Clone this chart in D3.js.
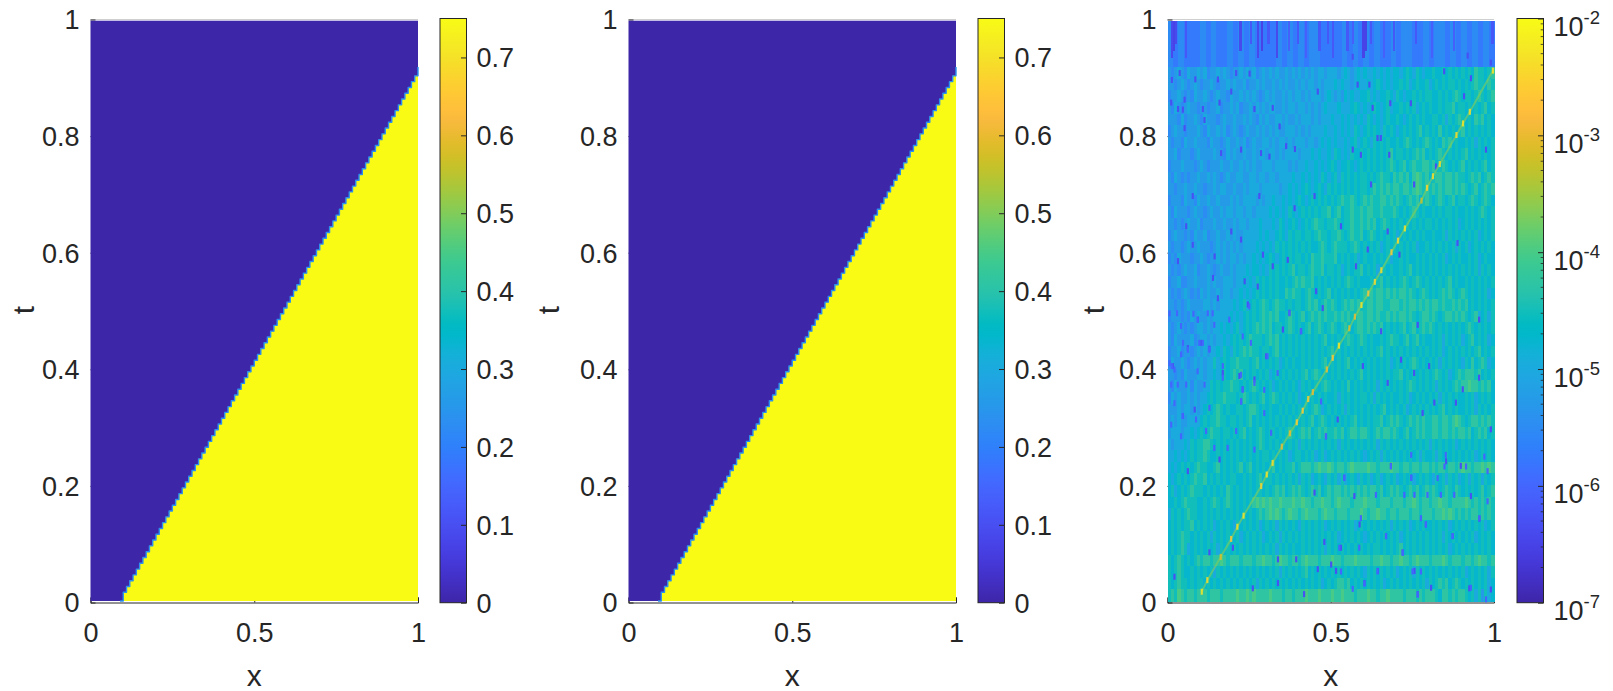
<!DOCTYPE html>
<html><head><meta charset="utf-8">
<script src="https://cdn.jsdelivr.net/npm/d3@7/dist/d3.min.js"></script>
<style>html,body{margin:0;padding:0;background:#fff}svg{display:block}
text{font-family:"Liberation Sans",Arial,sans-serif;fill:#262626}</style></head><body>
<svg id="c" width="1613" height="691"></svg>
<script>
const xTicks=[0,0.5,1], tTicks=[0,0.2,0.4,0.6,0.8,1];
const barTicksLinear=[0,0.1,0.2,0.3,0.4,0.5,0.6,0.7];
const barExponents=[-7,-6,-5,-4,-3,-2];
const lowValue=0, highValue=0.75;

const frontT=[0,.015,.025,.035,.045,.055,.065,.075,.085,.095,.105,.115,.125,.135,.145,.155,.165,.175,.185,.195,.205,.215,.225,.235,.245,.255,.265,.275,.285,.295,.305,.315,.325,.335,.345,.355,.365,.375,.385,.395,.405,.415,.425,.435,.445,.455,.465,.475,.485,.495,.505,.515,.525,.535,.545,.555,.565,.575,.585,.595,.605,.615,.625,.635,.645,.655,.665,.675,.685,.695,.705,.715,.725,.735,.745,.755,.765,.775,.785,.795,.805,.815,.825,.835,.845,.855,.865,.875,.885,.895,.905,.915,.92];
const frontX1=[.09,.10,.11,.12,.13,.14,.15,.16,.17,.18,.19,.20,.21,.22,.23,.24,.25,.26,.27,.28,.29,.30,.31,.32,.33,.34,.35,.36,.37,.38,.39,.40,.41,.42,.43,.44,.45,.46,.47,.48,.49,.50,.51,.52,.53,.54,.55,.56,.57,.58,.59,.60,.61,.62,.63,.64,.65,.66,.67,.68,.69,.70,.71,.72,.73,.74,.75,.76,.77,.78,.79,.80,.81,.82,.83,.84,.85,.86,.87,.88,.89,.90,.91,.92,.93,.94,.95,.96,.97,.98,.99,1,1];
const frontX2=[.09,.10,.11,.12,.13,.14,.15,.16,.17,.18,.19,.20,.21,.22,.23,.24,.25,.26,.27,.28,.29,.30,.31,.32,.33,.34,.35,.36,.37,.38,.39,.40,.41,.42,.43,.44,.45,.46,.47,.48,.49,.50,.51,.52,.53,.54,.55,.56,.57,.58,.59,.60,.61,.62,.63,.64,.65,.66,.67,.68,.69,.70,.71,.72,.73,.74,.75,.76,.77,.78,.79,.80,.81,.82,.83,.84,.85,.86,.87,.88,.89,.90,.91,.92,.93,.94,.95,.96,.97,.98,.99,1,1];

// panel 3: log10 error estimated by eye, hex level h means -7 + h/4, rows from t=0.92 down to t=0
const errorRows=[
"7678768778 7867787876 7787878678 7878778787 8787878878 8878987898 9889898989 989a98a989 9a99a9a9a9 a9a9baa9ab",
"7767876787 6778767787 8778677878 7787878778 7878878788 8989887898 8989a98989 9a9a89a99a 89a9a9aa9a 9a9abaa9ba",
"6778767687 7876787768 7787878767 8787787878 8787888789 8787989889 9a89899a98 a9899a9a9a a99a9a9aba 9aa9aba9ab",
"7687678776 7767786778 7867787878 7887787887 8878787898 8898889a98 989a989a89 9a9a9a89a9 a99a9aab9a a9a9a9ab9a",
"7776867787 6877767877 8778787687 8778878778 7888787888 9889898989 8a98989a99 a989a9a9a9 9aa9a8a9ab a9a9bab9a9",
"6787767778 7687787867 8767877878 7878778887 8787888898 8989898a98 9a9a98a9a9 89a9a9ab9a 9a9b9a9a9a b9a9a9a9a9",
"7677687787 7768776787 7878678778 8787887878 8878878989 8988989a89 a98a9a9a99 a9aba9a9ab a9a9bab9a9 9a9a8a9a9a",
"7786777678 7777877687 8778778788 7887878888 7888989889 8a9898a99a 9a9a9a9ab9 aa9a9abab9 a9aba9a9a9 ab9a9a9a9a",
"6777877767 8767778778 7787878778 8878888787 8898898989 a9899a989a 9a9a9a9aba 9ab9abaabb ab9aba9a9a b9a9a9ab9a",
"7687676778 7787876787 7887788788 7887888898 8989898a98 9a8a9a9a9a a9a9abaa9b abab9bcbab 9abbabbaba a9abab9aba",
"7767787787 7677878877 8778788878 8888788989 89a989a98a 9a9a9a9a9a a9abababab babbabcbab abababbaba ba9ab9abab",
"6777687768 7787787778 7878888787 8898898989 a989a9a9a9 a9abaaba9a babaabbaba ba9abab9ab a9aba9ab9a a9aba9aba9",
"7687776787 7678778788 7887887888 8989898a98 9a9a9a9aab 9ab9aabaab abbaabaaab a9a9aba9a9 9a9a9aa9a9 9a9a9aba9a",
"7767678778 6777877877 8788788898 8898a989a9 89a9abaa9a aba9aabaab abab9aba9a 9a9a9a9a9a a9a9a9a9a8 9a9a9a9a9a",
"6787767687 7867787787 8778888898 9889a98a9a a9aa9abaa9 aaba9abaab 9aba9a9a9a 89a9a9a9a9 9a99a8a9a9 a9a9a89a9a",
"7677678778 7776787878 7878888989 898a9a9a9a 9a9a99aba9 abaaa9aba9 a9a9a89a9a 9a9a9a899a 9a9a9a9a8a 9a89a9a9a9",
"6768777677 8767787878 8787889898 9a989a9a9a a9a9baabaa ab9a9a9a89 a99a9a9a89 9a9a99a9a9 a9a9a89a9a 99a9a89a99",
"7676787786 7787678778 7888989989 8a9a9a9ab9 aa9abaab9a a9a89a9aab 9a9a89a9a9 9a9ab9a9a9 a9a9a9a9a9 a9a9a8a9a9",
"6778667787 7787877888 7889898a9a 9a9a99a9ab abaab9a9a9 a9a9aba9a9 99a9ab9a9a 9aba9aba9a 9a9a9ab9a9 9a9a9a9a9a",
"7676787676 8787787887 8898989a9a 9a9a99baba a9aba9a9ab 9a9a9a9a9a bababbabab abbaba9aba 9a9ababa9a ba9a9a9a89",
"7767678777 7887878888 989a89a9ab a9abaa9a9a a9abab9aba ba9abababa abbabbaabb bababbabab abbabaabab ab9a9a9a9a",
"6777676878 7787888889 8989a9a9ab abab99aba9 ab9abababa abababaabb abbabaabab abbaba9abb aba9abbaba ba9ab89a8a",
"7678767678 8787889898 9a89a9abab ab9aa9aba9 a9ab9aba9a ba9aba9abb ababab9a9a 9ab9ab9aba ba9a9a9a9a 9aba9a9a9a",
"7687777867 8878788989 a9a9abaaa9 abab9a9a9a 9a9a9a9ab9 a9a9aba9ab a9a99a9aba a9ab9ab9a9 9a9a8a9a9a 89ab9a9a89",
"6778677678 7878898a98 a9ababaa9a a9ab9a9a9a 9a9a9a9a9a b9a9a9a9a9 a9a9ab9a9a 9a9a9a9a9a 9a9a89a9a9 a9a9ab9a9a",
"6877876787 8788a89a9a abaaa9ab9a 9a9a89a9a9 9a9a9a9ab9 a9a9ab9a9a 9a9a9a9a89 a9a9aba9a9 a9a8a9a9a9 8a9b9aba89",
"7767687778 8788989a9a bab9a9a9a9 a89a9a9a9a 9ab9aba9a9 a9a9a9a9ab 9a9a9a9a9a ab9a9a9a9a 9aba9a89ab abbbab9a9a",
"7687778687 788a9a9aab aa9a9aba9a 9a89a9a9a9 8a9a9a9aba 9a9a9b9a9a 9a9a8a9a9a 9a9aba9a9a 9a8a9a9aba bbcbbabab9",
"6878778787 889a9aabaa a9aba9a9ab 9aba9a9a9a 89a9a9a9a9 9a8a9a9a9a a9a8a9a9a9 9a9a89a9a9 a9a8a9a9a9 9a9a89a9a9",
"7778788787 89a9aba9a9 9aa9abba9a 9a99a9a9a9 a9a9aba89a 9a9a8a9a9a 9a9a9ab9a9 a9a89a9a9a 9a9ab9a9a9 9a9a8a9a9a",
"7878778888 9a9aabaa9a a9a9ab9a9a 9a9a9a9a9a 9a9ab9aba9 a9a9a9ab9a 9a9aab9aba ba9abababa abbabbabcb a9abbababa",
"7888788989 a9abaa9aa9 a9ab9a9aba 9aa9a9aba9 abab9ababa abab9abbab ba9ababbab a9ab9ababa abbabbabab bab9abab9a",
"8788898a9a abba9a9a9a 9a9a9a9aba 9a9a9a9a9a 8a9a9a9a9a 9a8a9a9a9a 9a9a8a9a9a 9a9a9a9a9a 8a9a9a9a89 a9a9a9a9a9",
"8898989a9a aba99a9a9a 9a9a9a9a9a a9a9a9a89a a9a9a89a89 a9a9a9a9a9 89a9a8a9a9 a9a9a9a8a9 9a8a9a9a9a 9a9a89a9a9",
"8989a9a9ab aa99ab9a9a 9ab9ab9a9a 9ab9a9aab9 abbbabcbbc babbabcbbb bcbbabbbcb babbabbabb ababbabbab cbbabbcbcb",
"989a9a9aba ab9a9a9a9a a99a9a9ab9 aa9a9a9a9a 8a9a89a98a 9a8a89a98a 9a89a89a9a 89a9a89a9a 98a9a8a9a8 9a8a9a8a9a",
"9a89a9abaa a9a9a9a9ba 9a9a9a9aa9 a9abab9aba ba9abab9ab abbabababa babbab9aba ba9abab9ab aba9aba9ba 9a9a9ab9ab",
"99a9abaaa9 9a9aba9aba 9a9a9abcbc bcbbcbbbcb bcbbabbcbb abcbbbabbb cbbbabbbab bbabbcbabb abbcbbabbb bcbabababa",
"8a9a9abaa9 9a9a9a9a9a 9a9a9a9aba bcbcbabcbb abcbbbabcb babbbabbbc babbcbbabb abbbabbabb babbcbcbab ababbababa",
"9a9a9aab9a 9a9a89a9a9 8a9a9a9a89 a9a8a9a9a9 8a9a9a9a89 a9a9a9a89a 9a9a9a9a8a 9a9a89a9a9 9a9a9a89a9 a9a9a9a89a",
"9a9abaa9a9 a9a8a9a9a9 9a89a9a9a8 9a9a8a9a9a 9a9a9a9a9a 9a89a9a9a9 89a9a9a9a9 a89a9a9a9a 9a9a8a9a9a 9a9a89a9a9",
"9a9aba89a9 a9a9a8a9a9 a9a9a9a9a9 a9a8a9a9a9 9a9a9a9a8a 9a9a9a9a9a 9a9aa9a9a9 ab9a9a9a9a 9a9a9a89a9 a9a9a9a9a9",
"a9aba9a9ab abbabbcbab bbabbbabbc bbabcbbabb abcbbbabbb cbbabbbcbb bbabbcbbab bcbbabcbbb abbbcbabbb abbabcbbab",
"a9aba99a9a 9a9a8a9a9a 9a9a9a9a9a 9a9a8a9a9a 9ab9a9a9a9 a9a9a9a9a9 8a9a9a9a9a 89a9a8a9a9 a9a9a9a9a9 a89a9a9a8a",
"a9abaa9a9a a9a9a9a9a9 a9a9a9a8a9 a9a9a9a9a9 a9a9a9a89a 9abbab9a9a 9a9a9a89a9 a9a9a9a9a8 a9abab9aba 9a9a9a9a89",
"abacbabbab bbabbbabbb bcbbcbcbbb bcbbbabbab bbcbbbcbbb cbbcbbbabb bcbbabbcbb bbabbbabab bba9bbabab ba9a8a7a89"
];
const rowStep=0.02, bandBottom=0.92;
// top band above the front exit
const bandRow="6565556565 5656565555 6565656655 5565656565 5656655656 6565656565";
const stripeX=[0.010,0.016,0.022,0.054,0.220,0.253,0.275,0.285,0.306,0.332,0.370,0.396,0.421,0.462,0.487,0.503,0.548,0.564,0.597,0.603,0.620,0.661,0.691,0.757,0.808,0.875,0.992];
const stripeLog=[-6.4,-6.5,-6.4,-6.2,-6.4,-6.2,-6.4,-6.5,-6.2,-6.4,-6.1,-6.2,-6.1,-6.2,-6.2,-6.2,-6.2,-6.1,-6.5,-6.5,-6.2,-6.1,-6.2,-6.2,-6.1,-6.1,-6.2];
// dark specks
const speckX=[.034,.010,.082,.151,.207,.248,.192,.049,.008,.105,.156,.029,.044,.263,.319,.110,.049,.340,.360,.387,.161,.222,.283,.309,.564,.589,.650,.640,.676,.620,.752,.819,.457,.579,.615,.625,.679,.742,.905,.844,.926,.972,.074,.278,.447,.916,.987,.564,
.054,.192,.222,.074,.141,.029,.289,.319,.365,.386,.528,.671,.610,.707,.885,.574,.136,.233,.273,.452,.151,.243,.090,.370,.472,.763,.951,.350,.406,.651,.059,.100,.125,.299,.712,.013,.166,.217,.263,.595,.752,.798,.951,.671,.227,.222,.880,.814,.080,.044,.778,.518,.987,.482,.901,
.059,.156,.895,.681,.850,.538,.743,.926,.447,.569,.952,.788,.585,.666,.870,.477,.528,.197,.125,.717,.498,.391,.335,.457,.513,.753,.641,.018,.335,.600,.258,.804,.987,.415,.763,.921];
const speckT=[.915,.903,.904,.904,.915,.914,.883,.869,.864,.853,.864,.853,.852,.853,.855,.834,.820,.823,.789,.784,.777,.783,.777,.771,.783,.774,.803,.803,.774,.723,.723,.754,.883,.895,.895,.855,.863,.863,.875,.918,.906,.783,.703,.703,.703,.945,.933,.943,
.651,.642,.628,.619,.599,.591,.602,.582,.593,.682,.651,.642,.611,.602,.622,.582,.562,.556,.547,.539,.527,.516,.490,.502,.510,.481,.490,.473,.470,.470,.441,.450,.440,.427,.421,.410,.398,.393,.387,.410,.398,.410,.390,.381,.370,.349,.347,.347,.335,.324,.329,.318,.301,.289,.370,
.229,.249,.238,.238,.246,.218,.218,.186,.192,.186,.147,.137,.137,.117,.117,.107,.097,.097,.089,.089,.068,.077,.077,.060,.057,.057,.057,.047,.036,.036,.027,.028,.025,.017,.017,.027];
// second reading of specks from closer crops
const speck2X=[.003,.026,.076,.089,.120,.135,.186,.247,.370,.038,.140,.405,.227,.044,.059,.094,.105,.125,.252,.038,.003,.010,.018,.089,.166,.166,.222,.303,.334,.008,.028,.054,.110,.263,.227,.293,.018,.222,.043,.084,.125,.008,.115,.293,.314,.038,.207,.140,.181,.263,.467,.482,
.681,.845,.911,.977,.538,.743,.824,.849,.967,.743,.635,.722,.753,.793,.834,.875,.977,.952,.788,.589,.666,.870,.773,.717,.523,.584,.747,.640,.528,.600,.773,.972,.763,.564,.926];
const speck2T=[.501,.501,.500,.490,.501,.501,.490,.513,.501,.479,.481,.470,.461,.450,.438,.450,.450,.438,.450,.430,.415,.410,.404,.401,.410,.390,.395,.427,.398,.378,.378,.378,.378,.381,.369,.369,.346,.349,.324,.318,.338,.309,.298,.329,.295,.289,.298,.269,.269,.266,.349,.289,
.237,.237,.237,.229,.217,.217,.217,.257,.254,.257,.188,.188,.188,.188,.188,.188,.177,.148,.137,.148,.117,.117,.148,.088,.097,.097,.056,.056,.056,.035,.056,.008,.016,.026,.028];
// bright spots along the ridge
const ridgeX=[.105,.122,.163,.195,.214,.233,.287,.304,.322,.350,.375,.396,.414,.431,.445,.488,.506,.525,.557,.574,.594,.615,.635,.655,.686,.706,.727,.778,.795,.813,.834,.885,.905,.926,.997];
const ridgeT=[.016,.036,.076,.107,.128,.147,.198,.218,.238,.266,.289,.308,.328,.348,.360,.399,.419,.440,.470,.490,.510,.530,.550,.570,.601,.621,.642,.690,.712,.732,.753,.803,.823,.843,.914];
const ridgeLog=[-2.2,-2.3,-3.0,-2.6,-2.3,-2.2,-2.4,-2.2,-2.3,-2.9,-2.9,-2.5,-2.5,-2.5,-2.9,-2.9,-2.6,-2.2,-3.0,-2.9,-2.2,-2.6,-2.3,-2.3,-2.5,-2.3,-2.2,-3.1,-2.4,-2.3,-2.3,-2.3,-2.2,-2.3,-2.2];

const parulaRGB=[[.2422,.1504,.6603],[.2504,.1650,.7076],[.2578,.1818,.7511],[.2647,.1978,.7952],[.2706,.2147,.8364],[.2751,.2342,.8710],[.2783,.2559,.8991],[.2803,.2782,.9221],[.2813,.3006,.9414],[.2810,.3228,.9579],[.2795,.3447,.9717],[.2760,.3667,.9829],[.2699,.3892,.9906],[.2602,.4123,.9952],[.2440,.4358,.9988],[.2206,.4603,.9973],[.1963,.4847,.9892],[.1834,.5074,.9798],[.1786,.5289,.9682],[.1764,.5499,.9520],[.1687,.5703,.9359],[.1540,.5902,.9218],[.1460,.6091,.9079],[.1380,.6276,.8973],[.1248,.6459,.8883],[.1113,.6635,.8763],[.0952,.6798,.8598],[.0689,.6948,.8394],[.0297,.7082,.8163],[.0036,.7203,.7917],[.0067,.7312,.7660],[.0433,.7411,.7394],[.0964,.7500,.7120],[.1408,.7584,.6842],[.1717,.7670,.6554],[.1938,.7758,.6251],[.2161,.7843,.5923],[.2470,.7918,.5567],[.2906,.7973,.5188],[.3406,.8008,.4789],[.3909,.8029,.4354],[.4456,.8024,.3909],[.5044,.7993,.3480],[.5616,.7942,.3045],[.6174,.7876,.2612],[.6720,.7793,.2227],[.7242,.7698,.1910],[.7738,.7598,.1646],[.8203,.7498,.1535],[.8634,.7406,.1596],[.9035,.7330,.1774],[.9393,.7288,.2100],[.9728,.7298,.2394],[.9956,.7434,.2371],[.9970,.7659,.2199],[.9952,.7893,.2028],[.9892,.8136,.1885],[.9786,.8386,.1766],[.9676,.8639,.1643],[.9610,.8890,.1537],[.9597,.9135,.1423],[.9628,.9373,.1265],[.9691,.9606,.1064],[.9769,.9839,.0805]];
const parulaHex=parulaRGB.map(c=>d3.rgb(c[0]*255,c[1]*255,c[2]*255).formatHex());
const parula=d3.scaleSequential(d3.piecewise(d3.interpolateRgb,parulaHex)).domain([0,1]);
const colorLin=d3.scaleSequential(parula.interpolator()).domain([lowValue,highValue]);
const colorLog=d3.scaleSequential(parula.interpolator()).domain([-7,-2]);

const svg=d3.select("#c");
const defs=svg.append("defs");
const grad=defs.append("linearGradient").attr("id","parula").attr("x1",0).attr("x2",0).attr("y1",1).attr("y2",0);
parulaHex.forEach((h,i)=>grad.append("stop").attr("offset",i/(parulaHex.length-1)).attr("stop-color",h));

const panels=[
 {x0:90.5,x1:418,bar:440,label:25,front:frontX1},
 {x0:628.5,x1:956,bar:978,label:550,front:frontX2},
 {x0:1167.5,x1:1494,bar:1517,label:1094.5,log:true}
];
const axisTop=19.5,axisBottom=602.5,imgTop=20.7,imgBottom=601,barTop=18.5,barBottom=602.7,barW=26.5;

panels.forEach(p=>{
 const g=svg.append("g");
 const x=d3.scaleLinear().domain([0,1]).range([p.x0,p.x1]);
 const y=d3.scaleLinear().domain([0,1]).range([axisBottom,axisTop]);
 const yImg=d3.scaleLinear().domain([0,1]).range([imgBottom,imgTop]);

 g.append("line").attr("x1",p.x0).attr("x2",p.x1).attr("y1",axisTop).attr("y2",axisTop).attr("stroke","#cfcfcf").attr("stroke-width",1);
 const ax=g.append("g").attr("transform",`translate(0,${axisBottom})`)
   .call(d3.axisBottom(x).tickValues(xTicks).tickSize(-5).tickPadding(20.5).tickFormat(d3.format("~g")));
 const ay=g.append("g").attr("transform",`translate(${p.x0},0)`)
   .call(d3.axisLeft(y).tickValues(tTicks).tickSize(-5).tickPadding(11).tickFormat(d3.format("~g")));
 [ax,ay].forEach(a=>{a.selectAll("text").style("font-size","27px");
   a.selectAll("line,path").attr("stroke","#262626").attr("stroke-width",1);
   a.attr("font-family",null).attr("font-size",null);});
 ay.select("path").attr("stroke","none");
 ax.selectAll("text").attr("dy","0.71em");
 ay.selectAll("text").attr("dy","0.35em");

 const img=g.append("g");
 if(!p.log){
  img.append("rect").attr("x",x(0)).attr("y",yImg(1)).attr("width",x(1)-x(0)).attr("height",yImg(0)-yImg(1)).attr("fill",colorLin(lowValue));
  const pts=frontT.map((t,i)=>[p.front[i],t]);
  const stair=d3.line().x(d=>x(d[0])).y(d=>yImg(d[1])).curve(d3.curveStepAfter);
  img.append("path").attr("d",stair(pts)+`L${x(1)},${yImg(0)}Z`).attr("fill",colorLin(highValue));
  img.append("path").attr("d",stair(pts)).attr("fill","none")
    .attr("stroke",colorLin(0.24)).attr("stroke-width",1.4).attr("stroke-linejoin","round");
 } else {
  const level=ch=>-7+parseInt(ch,16)/4;
  const bg=img.append("g").attr("shape-rendering","crispEdges");
  bg.append("rect").attr("x",x(0)).attr("y",yImg(1)).attr("width",x(1)-x(0)).attr("height",yImg(0)-yImg(1)).attr("fill",colorLog(-5));
  const band=bandRow.replace(/ /g,"").split("");
  bg.selectAll("rect.b").data(band).join("rect").attr("class","b")
    .attr("x",(d,i)=>x(i/band.length)).attr("width",(x(1)-x(0))/band.length+0.5)
    .attr("y",yImg(1)).attr("height",yImg(bandBottom)-yImg(1)).attr("fill",d=>colorLog(level(d)));
  errorRows.forEach((r,ri)=>{
    const cells=r.replace(/ /g,"").split("");
    const tTop=bandBottom-ri*rowStep;
    bg.selectAll(null).data(cells).join("rect")
      .attr("x",(d,i)=>x(i/cells.length)).attr("width",(x(1)-x(0))/cells.length+0.5)
      .attr("y",yImg(tTop)).attr("height",yImg(tTop-rowStep)-yImg(tTop)+0.5)
      .attr("fill",d=>colorLog(level(d)));
  });
  const cw=(x(1)-x(0))/150;
  bg.selectAll(null).data(stripeX).join("rect").attr("x",d=>x(d)).attr("width",cw)
    .attr("y",yImg(1)).attr("height",(d,i)=>yImg(bandBottom+0.015+(i%3)*0.012)-yImg(1))
    .attr("fill",(d,i)=>colorLog(stripeLog[i]));
  img.selectAll(null).data(speckX).join("rect").attr("x",d=>x(d)).attr("width",cw)
    .attr("y",(d,i)=>yImg(speckT[i])).attr("height",6)
    .attr("fill",colorLog(-6.3));
  img.selectAll(null).data(speck2X).join("rect").attr("x",d=>x(d)).attr("width",cw)
    .attr("y",(d,i)=>yImg(speck2T[i])).attr("height",6)
    .attr("fill",colorLog(-6.0));
  const ridge=ridgeX.map((v,i)=>[v,ridgeT[i]]);
  img.append("path").attr("d",d3.line().x(d=>x(d[0])).y(d=>yImg(d[1]))(ridge)).attr("fill","none")
    .attr("stroke",colorLog(-3.7)).attr("stroke-width",2).attr("stroke-opacity",0.65);
  img.selectAll(null).data(ridgeX).join("rect").attr("x",d=>x(d)-1.1).attr("width",2.2)
    .attr("y",(d,i)=>yImg(ridgeT[i])-3).attr("height",6)
    .attr("fill",(d,i)=>colorLog(ridgeLog[i]-0.1)).attr("fill-opacity",0.85);
 }

 // axis labels
 g.append("text").attr("x",(p.x0+p.x1)/2).attr("y",686).attr("text-anchor","middle").style("font-size","30px").text("x");
 g.append("text").attr("transform",`translate(${p.label+9},${(axisTop+axisBottom)/2-1}) rotate(-90)`).attr("text-anchor","middle").style("font-size","30px").text("t");

 // colour bar
 const b=g.append("g");
 b.append("rect").attr("x",p.bar).attr("y",barTop).attr("width",barW).attr("height",barBottom-barTop).attr("fill","url(#parula)");
 const by=p.log?d3.scaleLog().domain([1e-7,1e-2]).range([barBottom,barTop])
               :d3.scaleLinear().domain([lowValue,highValue]).range([barBottom,barTop]);
 const barAxis=g.append("g").attr("transform",`translate(${p.bar+barW},0)`);
 if(p.log){
   const majors=barExponents.map(e=>Math.pow(10,e));
   barAxis.call(d3.axisRight(by).tickValues(majors).tickSize(-5.5).tickPadding(10).tickFormat(""));
   const minors=[];
   barExponents.slice(0,-1).forEach(e=>[2,3,4,5,6,7,8,9].forEach(m=>minors.push(m*Math.pow(10,e))));
   barAxis.selectAll("line.minor").data(minors).join("line").attr("class","minor")
     .attr("x1",0).attr("x2",-2.8).attr("y1",d=>by(d)).attr("y2",d=>by(d)).attr("stroke","#262626").attr("stroke-width",0.8);
   barAxis.selectAll(".tick text").each(function(d,i){
     const t=d3.select(this).attr("x",10).attr("y",0).attr("dy",null).style("font-size","27px").attr("text-anchor","start");
     t.append("tspan").attr("dy","17").text("10");
     t.append("tspan").attr("dy","-12").style("font-size","18.5px").text(barExponents[i]);
   });
 } else {
   barAxis.call(d3.axisRight(by).tickValues(barTicksLinear).tickSize(-5.5).tickPadding(10).tickFormat(d3.format("~g")));
   barAxis.selectAll("text").style("font-size","27px").attr("dy","0.35em");
 }
 barAxis.attr("font-family",null).attr("font-size",null);
 barAxis.selectAll(".tick line").attr("stroke","#262626");
 barAxis.select("path").attr("stroke","none");
 g.append("rect").attr("x",p.bar).attr("y",barTop).attr("width",barW).attr("height",barBottom-barTop).attr("fill","none").attr("stroke","#262626").attr("stroke-width",1);
});
</script></body></html>
